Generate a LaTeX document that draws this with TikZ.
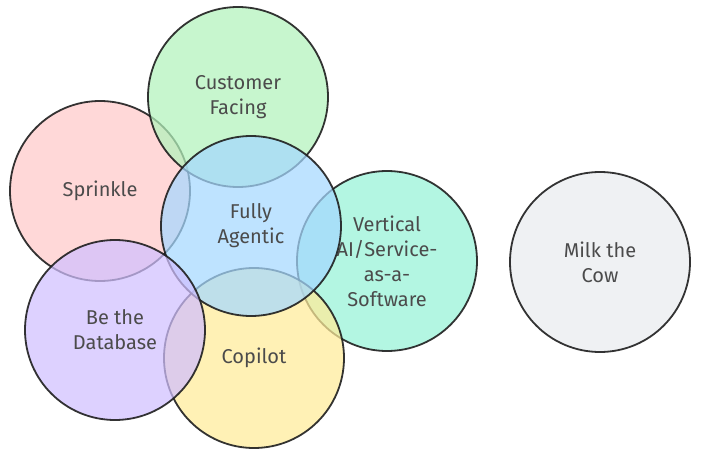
\documentclass[tikz,border=0pt]{standalone}
\usepackage{fontspec}
\setmainfont{Fira Sans}
\definecolor{inkgrey}{HTML}{1E1E1E}
\definecolor{custgreen}{HTML}{B2F2BB}
\definecolor{sprpink}{HTML}{FFC9C9}
\definecolor{agentblue}{HTML}{A5D8FF}
\definecolor{vertteal}{HTML}{96F2D7}
\definecolor{cowgrey}{HTML}{E9ECEF}
\definecolor{dbpurple}{HTML}{D0BFFF}
\definecolor{copyellow}{HTML}{FFEC99}
\begin{document}
\begin{tikzpicture}[x=1pt, y=-1pt, line join=round, line cap=round,
    bubble/.style={circle, minimum size=180pt, inner sep=0pt, align=center,
      draw=inkgrey, line width=1.8pt, draw opacity=0.9, fill opacity=0.72,
      text opacity=1, text=inkgrey!80, font=\fontsize{20}{25}\selectfont}]
  \useasboundingbox (0,0) rectangle (701,457);
  % back to front
  \node[bubble, fill=sprpink] (sprinkle) at (100,191) {Sprinkle};
  \node[bubble, fill=custgreen] (customer) at (238,97) {Customer\\Facing};
  \node[bubble, fill=vertteal] (vertical) at (387,261) {Vertical\\AI/Service-\\as-a-\\Software};
  \node[bubble, fill=copyellow] (copilot) at (254,358) {Copilot};
  \node[bubble, fill=agentblue] (agentic) at (251,226) {Fully\\Agentic};
  \node[bubble, fill=dbpurple] (database) at (115,330) {Be the\\Database};
  \node[bubble, fill=cowgrey] (cow) at (600,262) {Milk the\\Cow};
\end{tikzpicture}
\end{document}
